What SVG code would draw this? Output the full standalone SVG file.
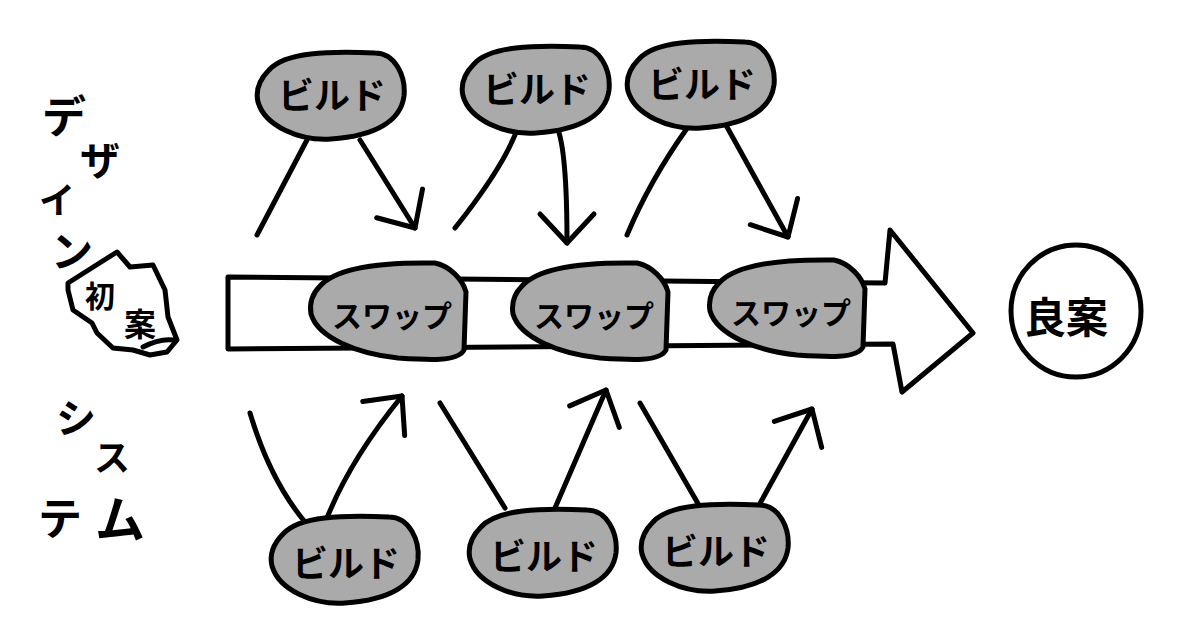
<svg xmlns="http://www.w3.org/2000/svg" xmlns:xlink="http://www.w3.org/1999/xlink" width="1200" height="629" viewBox="0 0 1200 629">
  <style>
    .ink { fill: none; stroke: #000; stroke-width: 5; stroke-linecap: round; stroke-linejoin: round; }
    .blob { fill: #aaaaaa; stroke: #000; stroke-width: 5; stroke-linejoin: round; }
    .white { fill: #fff; stroke: #000; stroke-width: 5; stroke-linejoin: round; }
    .jp { font-family: "Noto Sans CJK JP", "Noto Sans", sans-serif; font-weight: 700; fill: #000; text-anchor: middle; dominant-baseline: central; }
    .lbl { font-size: 36px; }
    .swp { font-size: 30px; }
  </style>
  <defs>
    <marker id="chev" markerUnits="userSpaceOnUse" markerWidth="70" markerHeight="80" viewBox="-45 -40 60 80" refX="0" refY="0" orient="auto" overflow="visible">
      <path d="M -29,-27 L 0,0 L -29,27" fill="none" stroke="#000" stroke-width="5" stroke-linecap="round" stroke-linejoin="round"/>
    </marker>
    <path id="buildShape" d="M -62,-26 C -46,-44 -2,-45 44,-43 C 64,-43 75,-20 73,0 C 70,24 46,40 0,43 C -32,45 -66,30 -73,6 C -76,-7 -70,-18 -62,-26 Z"/>
    <path id="swapShape" d="M -68,-26 C -52,-44 -10,-50 47,-49 C 62,-46 75,-32 78,-20 L 76,38 C 70,50 40,48 10,46 C -30,42 -70,26 -77,2 C -79,-10 -75,-19 -68,-26 Z"/>
  </defs>

  <rect width="1200" height="629" fill="#fff"/>

  <!-- free labels -->
  <g id="label-design">
    <text class="jp" x="64" y="114" font-size="44">デ</text>
    <text class="jp" x="100" y="158" font-size="40">ザ</text>
    <text class="jp" x="57" y="198" font-size="36">イ</text>
    <text class="jp" x="72" y="248" font-size="42">ン</text>
  </g>
  <g id="label-system">
    <text class="jp" x="76" y="416" font-size="40">シ</text>
    <text class="jp" x="112" y="455" font-size="36">ス</text>
    <text class="jp" x="60" y="516" font-size="44">テ</text>
    <text class="jp" x="120" y="516" font-size="50">ム</text>
  </g>

  <!-- main arrow -->
  <g id="main-arrow">
    <path class="white" d="M 228,277 L 885,283 L 890,230 L 973,333 L 902,392 L 893,344 L 228,349 Z"/>
  </g>

  <!-- connectors -->
  <g id="connectors">
    <path class="ink" d="M 308,138 L 257,235"/>
    <path class="ink" d="M 360,140 L 415,228" marker-end="url(#chev)"/>
    <path class="ink" d="M 518,127 Q 505,165 455,228"/>
    <path class="ink" d="M 557,127 Q 567,150 567,243" marker-end="url(#chev)"/>
    <path class="ink" d="M 688,127 Q 650,180 627,235"/>
    <path class="ink" d="M 727,127 L 788,237" marker-end="url(#chev)"/>

    <path class="ink" d="M 250,413 Q 270,480 305,522"/>
    <path class="ink" d="M 327,518 Q 350,460 402,396" marker-end="url(#chev)"/>
    <path class="ink" d="M 440,403 L 505,508"/>
    <path class="ink" d="M 555,508 L 606,390" marker-end="url(#chev)"/>
    <path class="ink" d="M 640,403 L 700,507"/>
    <path class="ink" d="M 758,507 L 812,409" marker-end="url(#chev)"/>
  </g>

  <!-- start node -->
  <g id="node-shoan">
    <path class="white" d="M 68,283 L 117,252 L 130,267 L 153,265 L 165,290 L 168,317 L 177,340 L 167,352 L 150,355 L 133,350 L 113,348 L 97,333 L 92,323 L 73,310 L 68,290 Z"/>
    <path class="ink" d="M 143,347 Q 160,338 174,340"/>
    <text class="jp" x="100" y="294" font-size="30">初</text>
    <text class="jp" x="140" y="322" font-size="32">案</text>
  </g>

  <!-- goal node -->
  <g id="node-ryoan">
    <ellipse class="white" cx="1076" cy="311" rx="65" ry="66"/>
    <text class="jp" x="1066" y="314" font-size="42">良案</text>
  </g>

  <!-- swap nodes -->
  <g id="node-swap-1">
    <use xlink:href="#swapShape" class="blob" transform="translate(388,312)"/>
    <text class="jp swp" x="392" y="314">スワップ</text>
  </g>
  <g id="node-swap-2">
    <use xlink:href="#swapShape" class="blob" transform="translate(590,312)"/>
    <text class="jp swp" x="594" y="314">スワップ</text>
  </g>
  <g id="node-swap-3">
    <use xlink:href="#swapShape" class="blob" transform="translate(787,309)"/>
    <text class="jp swp" x="791" y="311">スワップ</text>
  </g>

  <!-- build nodes top -->
  <g id="node-build-t1">
    <use xlink:href="#buildShape" class="blob" transform="translate(331,96)"/>
    <text class="jp lbl" x="332" y="93">ビルド</text>
  </g>
  <g id="node-build-t2">
    <use xlink:href="#buildShape" class="blob" transform="translate(536,90)"/>
    <text class="jp lbl" x="537" y="87">ビルド</text>
  </g>
  <g id="node-build-t3">
    <use xlink:href="#buildShape" class="blob" transform="translate(701,85)"/>
    <text class="jp lbl" x="702" y="82">ビルド</text>
  </g>

  <!-- build nodes bottom -->
  <g id="node-build-b1">
    <use xlink:href="#buildShape" class="blob" transform="translate(345,560)"/>
    <text class="jp lbl" x="346" y="561">ビルド</text>
  </g>
  <g id="node-build-b2">
    <use xlink:href="#buildShape" class="blob" transform="translate(543,553)"/>
    <text class="jp lbl" x="544" y="554">ビルド</text>
  </g>
  <g id="node-build-b3">
    <use xlink:href="#buildShape" class="blob" transform="translate(715,548)"/>
    <text class="jp lbl" x="716" y="549">ビルド</text>
  </g>
</svg>
